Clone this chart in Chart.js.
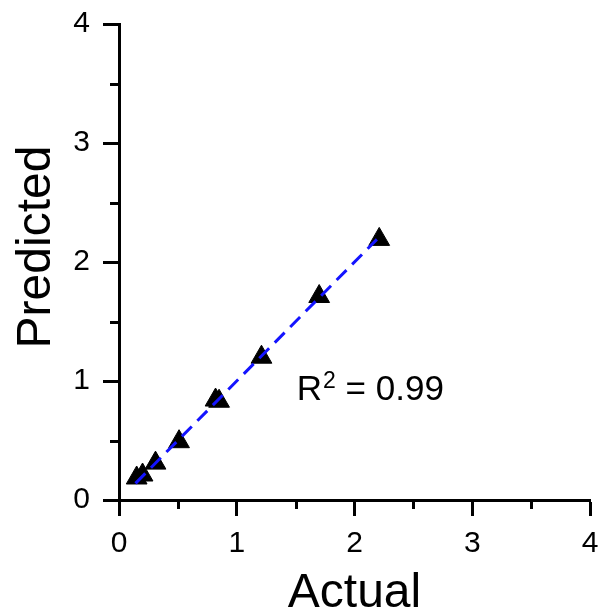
<!DOCTYPE html>
<html>
<head>
<meta charset="utf-8">
<script src="https://cdn.jsdelivr.net/npm/chart.js@4.4.1/dist/chart.umd.min.js"></script>
<style>
    html, body { margin: 0; padding: 0; background: #fff; }
    #wrap { width: 603px; height: 612px; }
</style>
</head>
<body>
<div id="wrap"><canvas id="fit-chart" width="603" height="612"></canvas></div>
<script>
const actual = [0.15, 0.20, 0.31, 0.51, 0.82, 0.85, 1.21, 1.70, 2.21];
const predicted = [0.185, 0.21, 0.31, 0.49, 0.84, 0.83, 1.20, 1.71, 2.19];

// fitted line end points
const fitX = [0.14, 2.19];
const fitY = [0.14, 2.19];

const xTicks = [0, 1, 2, 3, 4];
const yTicks = [0, 1, 2, 3, 4];
const minorTicks = [0.5, 1.5, 2.5, 3.5];

const r2Label = {x: 1.51, y: 0.84, text: '0.99'};
const yTitle = 'Predicted';

const fontFamily = '"Liberation Sans", Arial, sans-serif';

// minor ticks, y title and the R² annotation
const extras = {
    id: 'extras',
    afterDraw(chart) {
        const ctx = chart.ctx;
        const xs = chart.scales.x;
        const ys = chart.scales.y;
        const area = chart.chartArea;
        ctx.save();
        ctx.strokeStyle = '#000';
        ctx.lineWidth = 3;
        ctx.beginPath();
        minorTicks.forEach((v) => {
            const px = Math.round(xs.getPixelForValue(v)) + 0.5;
            ctx.moveTo(px, area.bottom);
            ctx.lineTo(px, area.bottom + 9);
            const py = Math.round(ys.getPixelForValue(v)) + 0.5;
            ctx.moveTo(area.left, py);
            ctx.lineTo(area.left - 9, py);
        });
        ctx.stroke();

        // y axis title, a bit above the middle like the original
        ctx.fillStyle = '#000';
        ctx.save();
        ctx.translate(50, (area.top + area.bottom) / 2 - 15);
        ctx.rotate(-Math.PI / 2);
        ctx.font = '48px ' + fontFamily;
        ctx.textAlign = 'center';
        ctx.textBaseline = 'alphabetic';
        ctx.fillText(yTitle, 0, 0);
        ctx.restore();

        // R^2 = 0.99
        let x = xs.getPixelForValue(r2Label.x);
        const y = ys.getPixelForValue(r2Label.y);
        ctx.textBaseline = 'alphabetic';
        ctx.textAlign = 'left';
        ctx.font = '35px ' + fontFamily;
        ctx.fillText('R', x, y);
        x += ctx.measureText('R').width;
        ctx.font = '23px ' + fontFamily;
        ctx.fillText('2', x + 1, y - 12);
        x += ctx.measureText('2').width + 1;
        ctx.font = '35px ' + fontFamily;
        ctx.fillText(' = ' + r2Label.text, x, y);
        ctx.restore();
    }
};

const points = actual.map((v, i) => ({x: v, y: predicted[i]}));
const fitLine = fitX.map((v, i) => ({x: v, y: fitY[i]}));

new Chart(document.querySelector('#fit-chart'), {
    type: 'scatter',
    data: {
        datasets: [
            {
                label: 'fit',
                type: 'line',
                data: fitLine,
                borderColor: '#1414ff',
                borderWidth: 3,
                borderDash: [14, 8],
                pointRadius: 0,
                fill: false,
                order: 1, // line sits on top of the markers
            },
            {
                label: 'data',
                data: points,
                pointStyle: 'triangle',
                pointRadius: 12,
                backgroundColor: '#000',
                borderColor: '#000',
                borderWidth: 1,
                order: 2,
            }
        ]
    },
    options: {
        responsive: false,
        animation: false,
        layout: {padding: {top: 24, right: 8, left: 0, bottom: 0}},
        plugins: {
            legend: {display: false},
            tooltip: {enabled: false},
        },
        scales: {
            x: {
                type: 'linear',
                min: 0,
                max: 4,
                afterBuildTicks: (scale) => {
                    scale.ticks = xTicks.map((v) => ({value: v}));
                },
                afterFit: (scale) => {
                    scale.height = 112;
                    scale.paddingLeft = 0;
                    scale.paddingRight = 0;
                },
                ticks: {
                    color: '#000',
                    padding: 10,
                    font: {family: fontFamily, size: 30},
                    callback: (v) => String(v),
                },
                grid: {
                    drawOnChartArea: false,
                    tickLength: 16,
                    tickWidth: 3,
                    tickColor: '#000',
                },
                border: {color: '#000', width: 3},
                title: {
                    display: true,
                    text: 'Actual',
                    color: '#000',
                    font: {family: fontFamily, size: 48, lineHeight: 1},
                    padding: {top: 0, bottom: -6},
                },
            },
            y: {
                type: 'linear',
                min: 0,
                max: 4,
                afterBuildTicks: (scale) => {
                    scale.ticks = yTicks.map((v) => ({value: v}));
                },
                afterFit: (scale) => {
                    scale.width = 119;
                    scale.paddingTop = 0;
                    scale.paddingBottom = 0;
                },
                ticks: {
                    color: '#000',
                    padding: 13,
                    font: {family: fontFamily, size: 30},
                    callback: (v) => String(v),
                },
                grid: {
                    drawOnChartArea: false,
                    tickLength: 16,
                    tickWidth: 3,
                    tickColor: '#000',
                },
                border: {color: '#000', width: 3},
            }
        }
    },
    plugins: [extras]
});
</script>
</body>
</html>
